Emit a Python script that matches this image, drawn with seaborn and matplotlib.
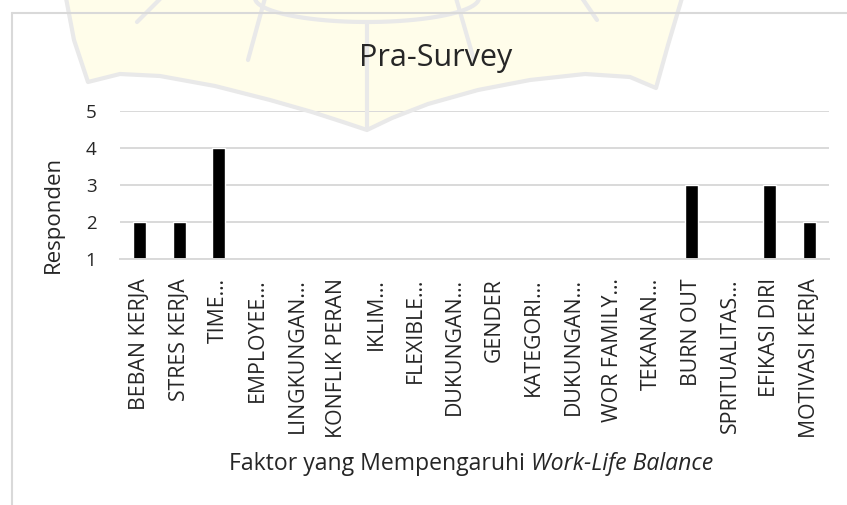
import matplotlib
matplotlib.use('Agg')
import numpy as np
import pandas as pd
import matplotlib.pyplot as plt
import seaborn as sns
from matplotlib.lines import Line2D
from matplotlib.patches import PathPatch
from matplotlib.path import Path

# data (empty slots sit on the axis floor of 1)
faktor = ['BEBAN KERJA', 'STRES KERJA', 'TIME…', 'EMPLOYEE…', 'LINGKUNGAN…',
          'KONFLIK PERAN', 'IKLIM…', 'FLEXIBLE…', 'DUKUNGAN…', 'GENDER',
          'KATEGORI…', 'DUKUNGAN…', 'WOR FAMILY…', 'TEKANAN…', 'BURN OUT',
          'SPRITUALITAS…', 'EFIKASI DIRI', 'MOTIVASI KERJA']
responden = [2, 2, 4, 1, 1, 1, 1, 1, 1, 1, 1, 1, 1, 1, 3, 1, 3, 2]
y_ticks = [1, 2, 3, 4, 5]

judul = 'Pra-Survey'
label_y = 'Responden'
label_x1 = 'Faktor yang Mempengaruhi '
label_x2 = 'Work-Life Balance'

sns.set_style('white')
plt.rcParams['font.family'] = ['Open Sans', 'DejaVu Sans']

W, H = 847, 505
fig = plt.figure(figsize=(W / 100, H / 100), dpi=100, facecolor='white')


def px(pts):
    # pixel coords (origin top-left) -> figure fraction
    return [(x / W, 1 - y / H) for x, y in pts]


# faint logo watermark of the source page (decoration only)
wm_col = '#e9e9e9'
outline = [(66, -2), (74, 40), (88, 82), (120, 74), (160, 76), (215, 86), (270, 100),
           (312, 112), (343, 122), (367, 130), (392, 118), (428, 104), (478, 90),
           (530, 80), (585, 74), (630, 77), (656, 88), (668, 45), (682, -2)]
wm = Path(px(outline) + [px([(66, -2)])[0]], closed=True)
fig.add_artist(PathPatch(wm, facecolor='#fffdea', edgecolor='none', zorder=0))
fig.add_artist(Line2D(*zip(*px(outline)), color=wm_col, lw=3, zorder=0.5))
wm_lines = [[(367, 24), (367, 128)], [(137, 22), (161, -2)], [(248, 60), (265, -2)],
            [(474, 60), (456, -2)], [(597, 20), (582, -2)]]
for seg in wm_lines:
    fig.add_artist(Line2D(*zip(*px(seg)), color=wm_col, lw=3, zorder=0.5))
t_arc = np.linspace(0, np.pi, 40)
arc = [(367 + 112 * np.cos(t), 24 * np.sin(t) - 2) for t in t_arc]
fig.add_artist(Line2D(*zip(*px(arc)), color=wm_col, lw=3, zorder=0.5))

ax = fig.add_axes([120 / W, 1 - 259.3 / H, (829 - 120) / W, (259.3 - 111.3) / H])
ax.patch.set_alpha(0)

# duplicate labels (DUKUNGAN…) -> plot on slot numbers, label afterwards
df = pd.DataFrame({'slot': list(range(len(faktor))), 'responden': responden})
sns.barplot(data=df, x='slot', y='responden', color='black', width=0.33,
            saturation=1, ax=ax)

ax.set_ylim(y_ticks[0], y_ticks[-1])
ax.set_yticks(y_ticks)
ax.set_xticks(range(len(faktor)))
ax.set_xticklabels(faktor, rotation=90, va='top', ha='center', fontsize=15.3)
ax.tick_params(axis='x', length=0, pad=13.5)
ax.tick_params(axis='y', length=0, pad=17, labelsize=13.5)
ax.set_xlabel('')
ax.set_ylabel('')
ax.set_axisbelow(True)
ax.yaxis.grid(True, color='#d9d9d9', linewidth=1.4)
for s in ['top', 'left', 'right']:
    ax.spines[s].set_visible(False)
ax.spines['bottom'].set_color('#d9d9d9')
ax.spines['bottom'].set_linewidth(1.4)

# chart border (Excel chart area), cut off at the right and bottom
fig.add_artist(Line2D([11.5 / W, 1], [1 - 13 / H, 1 - 13 / H], color='#d9d9d9', lw=1.5))
fig.add_artist(Line2D([11.5 / W, 11.5 / W], [0, 1 - 13 / H], color='#d9d9d9', lw=1.5))

fig.text(436 / W, 1 - 58 / H, judul, ha='center', va='center', fontsize=22)
fig.text(53 / W, 1 - 214 / H, label_y, ha='center', va='center', rotation=90, fontsize=16)

# x label: plain part + italic part, centred together
t1 = fig.text(0, 1 - 464 / H, label_x1, ha='left', va='center', fontsize=16.6)
t2 = fig.text(0, 1 - 464 / H, label_x2, ha='left', va='center', fontsize=16.6, style='italic')
fig.canvas.draw()
r = fig.canvas.get_renderer()
w1 = t1.get_window_extent(r).width
w2 = t2.get_window_extent(r).width
x0 = 471 - (w1 + w2) / 2
t1.set_x(x0 / W)
t2.set_x((x0 + w1) / W)

fig.savefig('out.png', dpi=100, facecolor='white')
